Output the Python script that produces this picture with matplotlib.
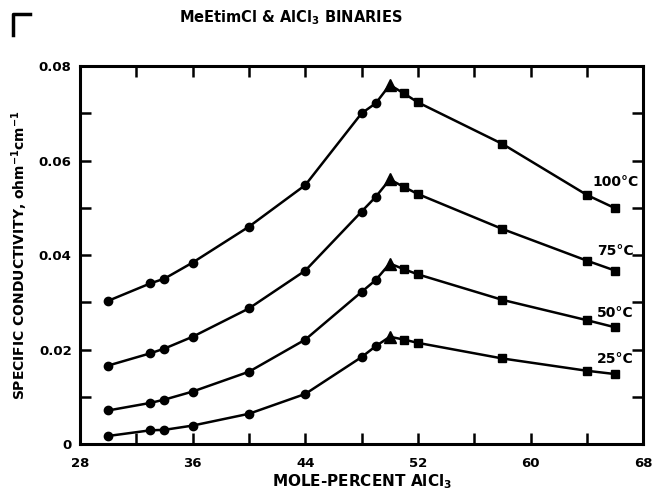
import matplotlib
matplotlib.use("Agg")
import matplotlib.pyplot as plt
from matplotlib.lines import Line2D
import numpy as np

# mole-percent AlCl3 where conductivity was measured
mole_pct = [30, 33, 34, 36, 40, 44, 48, 49, 50, 51, 52, 58, 64, 66]

# specific conductivity, ohm^-1 cm^-1
k_100 = [0.0303, 0.0340, 0.0350, 0.0384, 0.0460, 0.0548, 0.0700, 0.0721,
         0.0760, 0.0742, 0.0723, 0.0635, 0.0527, 0.0499]
k_75 = [0.0166, 0.0192, 0.0202, 0.0227, 0.0287, 0.0367, 0.0492, 0.0523,
        0.0560, 0.0544, 0.0529, 0.0455, 0.0388, 0.0367]
k_50 = [0.0071, 0.0087, 0.0094, 0.0111, 0.0153, 0.0221, 0.0322, 0.0347,
        0.0382, 0.0370, 0.0359, 0.0305, 0.0262, 0.0247]
k_25 = [0.0017, 0.0029, 0.0030, 0.0039, 0.0064, 0.0106, 0.0184, 0.0207,
        0.0227, 0.0221, 0.0214, 0.0181, 0.0155, 0.0148]

series = [k_100, k_75, k_50, k_25]
temp_labels = ["100°C", "75°C", "50°C", "25°C"]
label_dy = [19, 14, 10, 11]   # points above the last marker

x_ticks = [28, 36, 44, 52, 60, 68]
y_ticks = [0, 0.02, 0.04, 0.06, 0.08]
y_ticklabels = ["0", "0.02", "0.04", "0.06", "0.08"]

fig = plt.figure(figsize=(6.54, 4.94), dpi=100)
ax = fig.add_axes([0.1223, 0.1012, 0.8613, 0.7652])

x = np.array(mole_pct)
left = x < 50
peak = x == 50
right = x > 50

for k, lab, dy in zip(series, temp_labels, label_dy):
    k = np.array(k)
    ax.plot(x, k, color="black", lw=1.8, zorder=2)
    ax.plot(x[left], k[left], "o", color="black", ms=6, zorder=3)
    ax.plot(x[peak], k[peak], "^", color="black", ms=8, zorder=3)
    ax.plot(x[right], k[right], "s", color="black", ms=5.5, zorder=3)
    ax.annotate(lab, (x[-1], k[-1]), xytext=(0, dy), textcoords="offset points",
                ha="center", va="center", fontsize=10, fontweight="bold")

ax.set_xlim(28, 68)
ax.set_ylim(0, 0.08)
ax.set_xticks(x_ticks)
ax.set_xticks(np.arange(28, 69, 4), minor=True)
ax.set_yticks(y_ticks)
ax.set_yticklabels(y_ticklabels)
ax.set_yticks(np.arange(0, 0.0801, 0.01), minor=True)
ax.tick_params(which="both", direction="in", top=True, right=True,
               length=8, width=1.8)
ax.tick_params(labelsize=9.5)
ax.tick_params(axis="x", pad=9)
ax.tick_params(axis="y", pad=6)
for lbl in ax.get_xticklabels() + ax.get_yticklabels():
    lbl.set_fontweight("bold")
for s in ax.spines.values():
    s.set_linewidth(2.2)

ax.set_xlabel(r"MOLE-PERCENT AlCl$_\mathbf{3}$", fontsize=11, fontweight="bold", labelpad=2)
ax.set_ylabel(r"SPECIFIC CONDUCTIVITY, ohm$^\mathbf{-1}$cm$^\mathbf{-1}$", fontsize=10,
              fontweight="bold", labelpad=6)
fig.text(0.444, 0.965, r"MeEtimCl & AlCl$_\mathbf{3}$ BINARIES", ha="center", va="center",
         fontsize=10.5, fontweight="bold")

# crop mark in the upper-left corner of the scanned page
fig.add_artist(Line2D([0.02, 0.02, 0.046], [0.93, 0.972, 0.972], color="black", lw=2.5))

fig.savefig("out.png", dpi=100)
